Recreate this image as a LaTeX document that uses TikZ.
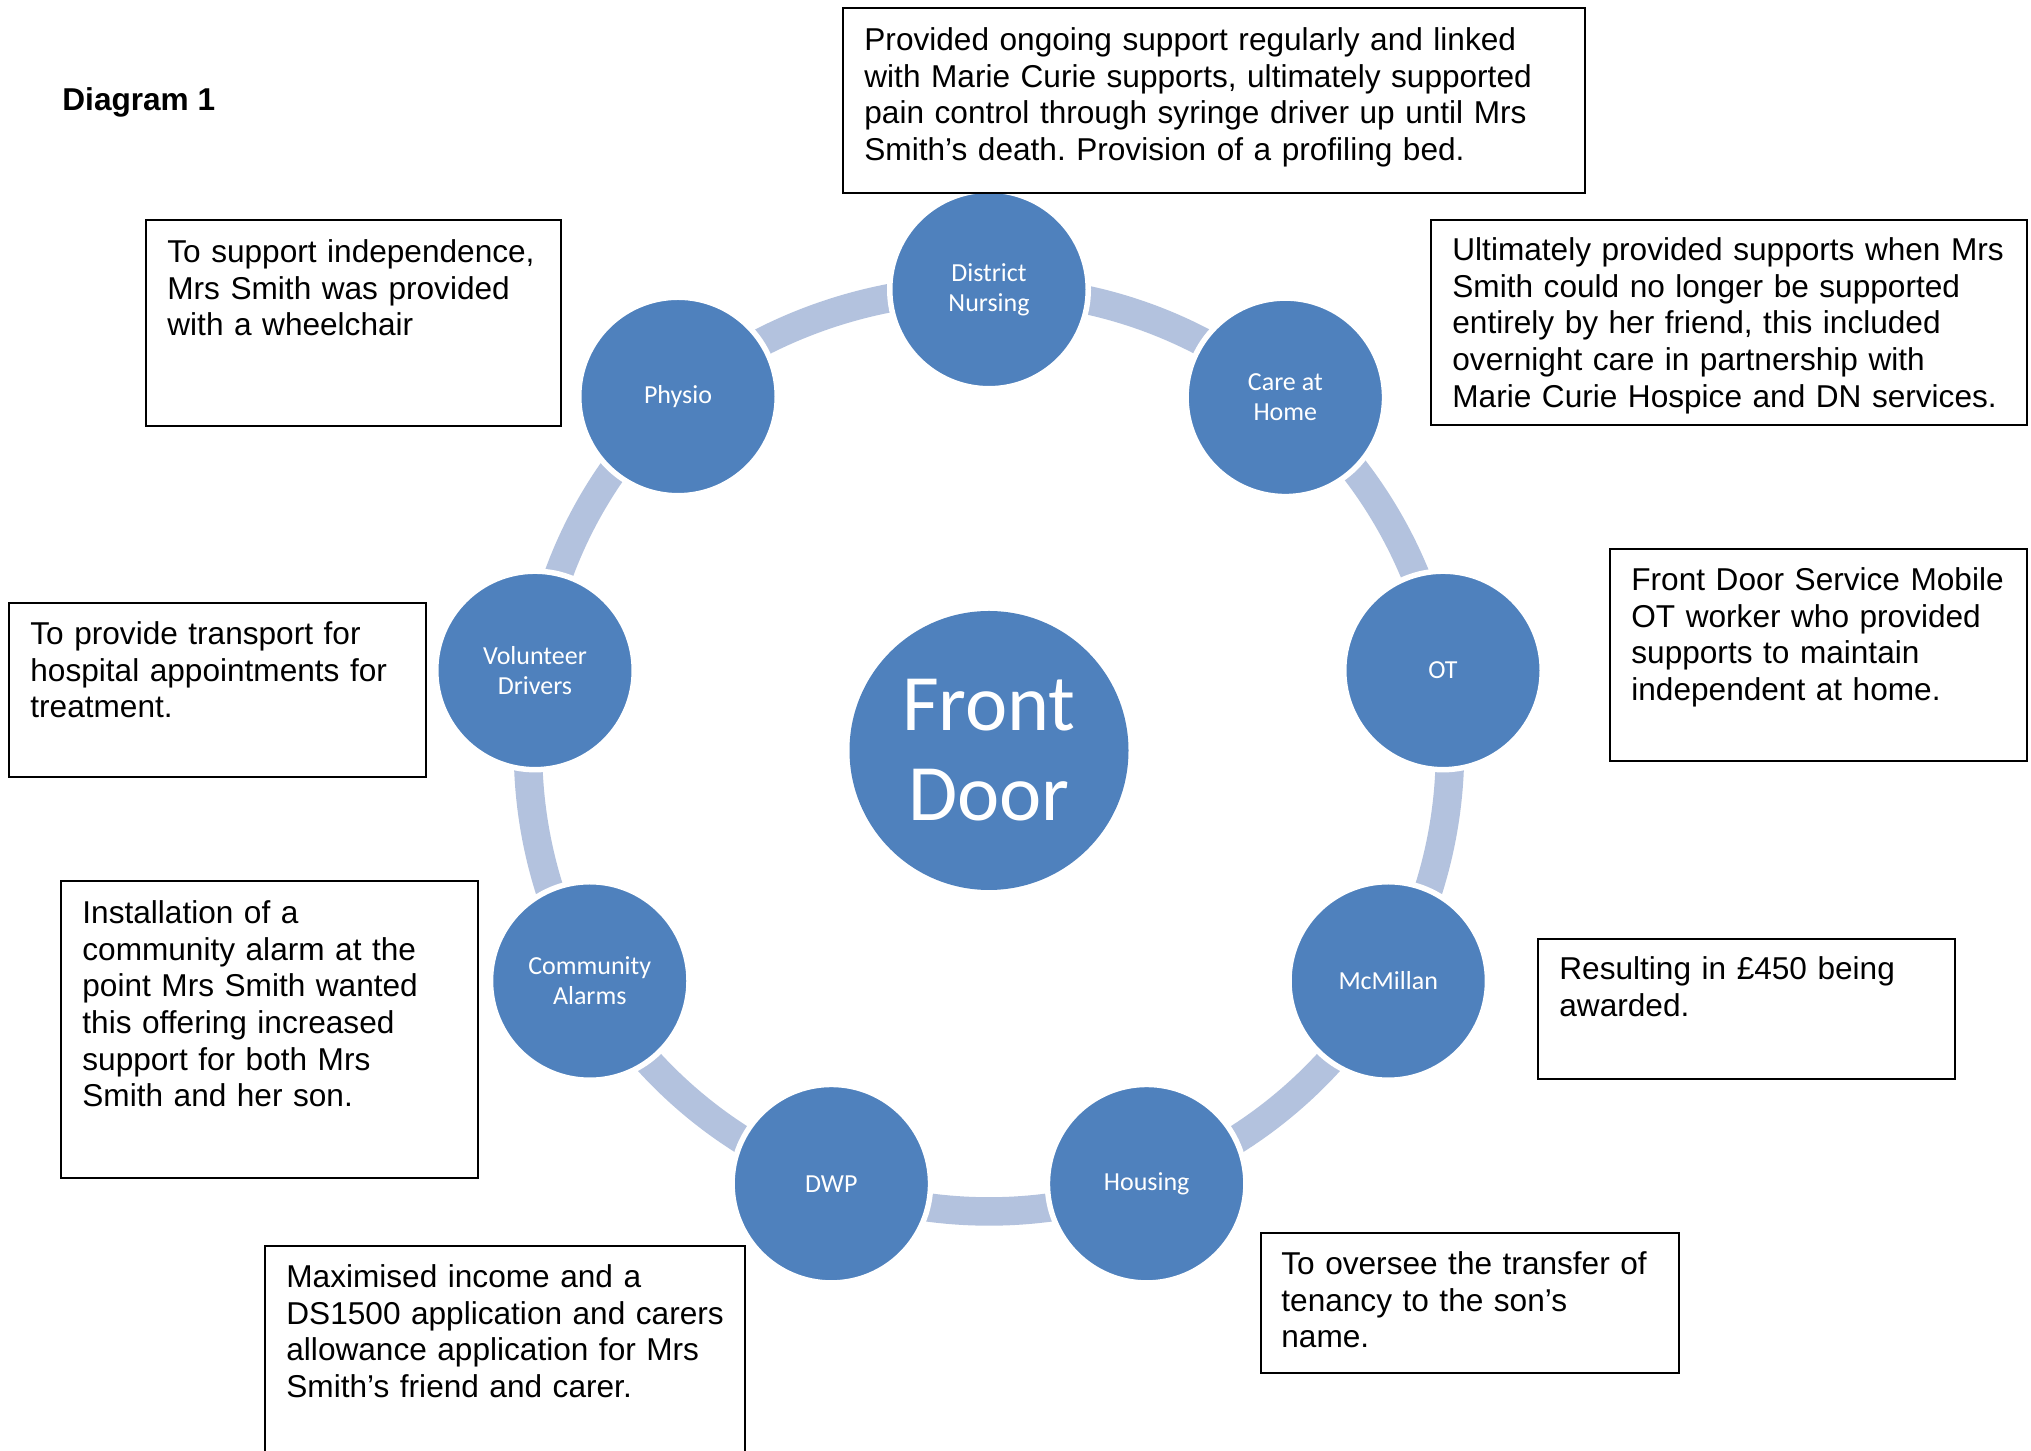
\documentclass[tikz,border=0pt]{standalone}
\usepackage{fontspec}
\setmainfont{Liberation Sans}
\newfontfamily\calibri{Carlito}
\usetikzlibrary{calc,backgrounds}
\definecolor{nodeblue}{RGB}{79,129,189}
\definecolor{arcblue}{RGB}{179,194,222}
\frenchspacing
\begin{document}
\begin{tikzpicture}[x=0.5pt,y=0.5pt,
  sat/.style={circle, fill=nodeblue, draw=white, line width=2.75pt, minimum size=99.25pt, inner sep=0pt, text=white, align=center, font=\calibri\fontsize{13}{15}\selectfont},
  hub/.style={circle, fill=nodeblue, minimum size=139.5pt, inner sep=0pt, text=white, align=center, font=\calibri\fontsize{40}{45}\selectfont},
  ringarc/.style={draw=arcblue, line width=14.25pt, bend right=20, looseness=0.88},
  notebox/.style={draw=black, line width=1pt},
  notetext/.style={anchor=base west, inner sep=0pt, text width=380pt, align=left, font=\fontsize{15.8}{18.35}\selectfont},
]
\useasboundingbox (0,0) rectangle (2031,1451);

% hub and satellites
\node[hub] (fd) at (989,700.5) {Front\\Door};
\node[sat] (dn) at ($(fd.center)+(90:461)$) {District\\Nursing};
\node[sat] (ch) at ($(fd.center)+(50:461)$) {Care at\\Home};
\node[sat] (ot) at ($(fd.center)+(10:461)$) {OT};
\node[sat] (mc) at ($(fd.center)+(-30:461)$) {McMillan};
\node[sat] (ho) at ($(fd.center)+(-70:461)$) {Housing};
\node[sat] (dw) at ($(fd.center)+(-110:461)$) {DWP};
\node[sat] (ca) at ($(fd.center)+(-150:461)$) {Community\\Alarms};
\node[sat] (vd) at ($(fd.center)+(170:461)$) {Volunteer\\Drivers};
\node[sat] (ph) at (678,1054.5) {Physio};

% ring connectors
\begin{scope}[on background layer]
  \fill[white] (0,0) rectangle (2031,1451);
  \draw[ringarc] (mc.center) to (ot.center);
  \draw[ringarc] (ot.center) to (ch.center);
  \draw[ringarc] (ch.center) to (dn.center);
  \draw[ringarc] (dn.center) to (ph.center);
  \draw[ringarc] (ph.center) to (vd.center);
  \draw[ringarc] (vd.center) to (ca.center);
  \draw[ringarc] (ca.center) to (dw.center);
  \draw[ringarc] (dw.center) to (ho.center);
  \draw[ringarc] (ho.center) to (mc.center);
\end{scope}

% title
\node[anchor=base west, inner sep=0pt, font=\bfseries\fontsize{15.8}{18.35}\selectfont] (title) at (62,1340.5) {Diagram 1};

% note boxes
\draw[notebox] (843,1443) rectangle (1585,1258);
\node[notetext] (tdn) at (864,1400.5) {Provided ongoing support regularly and linked\\with Marie Curie supports, ultimately supported\\pain control through syringe driver up until Mrs\\Smith’s death. Provision of a profiling bed.};

\draw[notebox] (1431,1231) rectangle (2027,1026);
\node[notetext] (tch) at (1452,1190.5) {Ultimately provided supports when Mrs\\Smith could no longer be supported\\entirely by her friend, this included\\overnight care in partnership with\\Marie Curie Hospice and DN services.};

\draw[notebox] (146,1231) rectangle (561,1025);
\node[notetext] (tph) at (167,1188.5) {To support independence,\\Mrs Smith was provided\\with a wheelchair};

\draw[notebox] (9,848) rectangle (426,674);
\node[notetext] (tvd) at (30,806.5) {To provide transport for\\hospital appointments for\\treatment.};

\draw[notebox] (61,570) rectangle (478,273);
\node[notetext] (tca) at (82,527.5) {Installation of a\\community alarm at the\\point Mrs Smith wanted\\this offering increased\\support for both Mrs\\Smith and her son.};

\draw[notebox] (265,-20) -- (265,205) -- (745,205) -- (745,-20);
\node[notetext] (tdw) at (286,163.5) {Maximised income and a\\DS1500 application and carers\\allowance application for Mrs\\Smith’s friend and carer.};

\draw[notebox] (1261,218) rectangle (1679,78);
\node[notetext] (tho) at (1281,176.5) {To oversee the transfer of\\tenancy to the son’s\\name.};

\draw[notebox] (1538,512) rectangle (1955,372);
\node[notetext] (tmc) at (1559,471.5) {Resulting in £450 being\\awarded.};

\draw[notebox] (1610,902) rectangle (2027,690);
\node[notetext] (tot) at (1631,860.5) {Front Door Service Mobile\\OT worker who provided\\supports to maintain\\independent at home.};
\end{tikzpicture}
\end{document}
